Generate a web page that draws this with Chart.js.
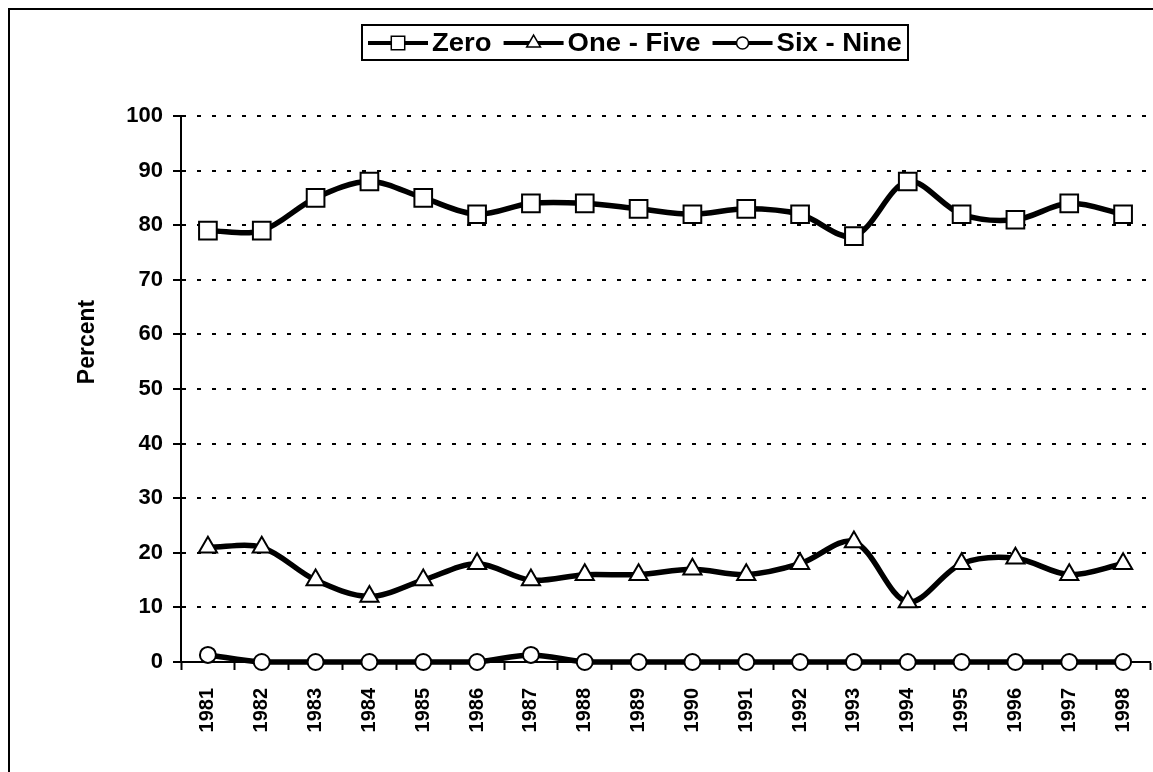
<!DOCTYPE html>
<html>
<head>
<meta charset="utf-8">
<script src="https://cdn.jsdelivr.net/npm/chart.js@4/dist/chart.umd.min.js"></script>
<style>
  html, body { margin: 0; padding: 0; background: #fff; }
</style>
</head>
<body>
<canvas id="chart" width="1153" height="772"></canvas>
<script>
// data
const years = ['1981', '1982', '1983', '1984', '1985', '1986', '1987', '1988', '1989',
               '1990', '1991', '1992', '1993', '1994', '1995', '1996', '1997', '1998'];
const zero    = [79, 79, 85, 88, 85, 82, 84, 84, 83, 82, 83, 82, 78, 88, 82, 81, 84, 82];
const oneFive = [21, 21, 15, 12, 15, 18, 15, 16, 16, 17, 16, 18, 22, 11, 18, 19, 16, 18];
const sixNine = [1.3, 0, 0, 0, 0, 0, 1.3, 0, 0, 0, 0, 0, 0, 0, 0, 0, 0, 0];
const seriesNames = ['Zero', 'One - Five', 'Six - Nine'];
const axisTitle = 'Percent';

const FONT = '"Liberation Sans", Arial, sans-serif';

// frame, legend box and y title drawn by hand
const frameLegend = {
    id: 'frameLegend',
    afterDraw(chart) {
        const ctx = chart.ctx;
        ctx.save();
        ctx.strokeStyle = '#000';
        ctx.fillStyle = '#000';
        ctx.lineWidth = 2;
        ctx.strokeRect(9, 9, 1200, 1200);
        ctx.strokeRect(362, 25, 546, 35);

        ctx.font = 'bold 25px ' + FONT;
        ctx.textBaseline = 'middle';
        const stretch = 1.1; // legend text is a bit wider in the original
        let x = 368;
        const y = 43;
        chart.data.datasets.forEach(ds => {
            ctx.lineWidth = 4;
            ctx.strokeStyle = '#000';
            ctx.beginPath();
            ctx.moveTo(x, y);
            ctx.lineTo(x + 60, y);
            ctx.stroke();
            ctx.fillStyle = '#fff';
            ctx.lineWidth = 1.5;
            Chart.helpers.drawPoint(ctx, {pointStyle: ds.pointStyle, radius: ds.legendRadius, borderWidth: 1.5, rotation: 0}, x + 30, y);
            ctx.fillStyle = '#000';
            ctx.textAlign = 'left';
            ctx.save();
            ctx.translate(x + 64, y + 1);
            ctx.scale(stretch, 1);
            ctx.fillText(ds.label, 0, 0);
            ctx.restore();
            x += 64 + ctx.measureText(ds.label).width * stretch + 12;
        });

        // y axis title
        ctx.font = 'bold 23px ' + FONT;
        ctx.textAlign = 'center';
        ctx.translate(88, 342);
        ctx.rotate(-Math.PI / 2);
        ctx.fillText(axisTitle, 0, 0);
        ctx.restore();
    }
};

function makeSeries(label, data, style, radius, legendRadius) {
    return {
        label: label,
        data: data,
        borderColor: '#000',
        borderWidth: 5.5,
        backgroundColor: '#fff',
        pointStyle: style,
        pointRadius: radius,
        pointBorderWidth: 2,
        pointBackgroundColor: '#fff',
        pointBorderColor: '#000',
        legendRadius: legendRadius,
        tension: 0.33,
        clip: false,
        fill: false
    };
}

const tickFont = {family: FONT, size: 22, weight: 'bold'};

new Chart(document.getElementById('chart').getContext('2d'), {
    type: 'line',
    data: {
        labels: years,
        datasets: [
            makeSeries(seriesNames[0], zero, 'rect', 12.5, 9.5),
            makeSeries(seriesNames[1], oneFive, 'triangle', 10.5, 8),
            makeSeries(seriesNames[2], sixNine, 'circle', 8, 6)
        ]
    },
    options: {
        responsive: false,
        animation: false,
        events: [],
        layout: {autoPadding: false, padding: {top: 116, right: 3, left: 0, bottom: 0}},
        plugins: {legend: {display: false}, tooltip: {enabled: false}},
        scales: {
            x: {
                offset: true,
                grid: {offset: true, drawOnChartArea: false, drawTicks: true, tickLength: 8, color: '#000', tickColor: '#000', tickWidth: 2},
                border: {color: '#000', width: 2},
                ticks: {color: '#000', font: {family: FONT, size: 20, weight: 'bold'}, minRotation: 90, maxRotation: 90, padding: 18, autoSkip: false},
                afterFit: s => { s.height = 110; s.paddingLeft = 0; s.paddingRight = 0; }
            },
            y: {
                min: 0,
                max: 100,
                ticks: {stepSize: 10, color: '#000', font: tickFont, padding: 10},
                grid: {color: '#000', lineWidth: 2, tickLength: 8, tickColor: '#000', tickWidth: 2, tickBorderDash: []},
                border: {color: '#000', width: 2, dash: [4, 11]},
                afterFit: s => { s.width = 181; }
            }
        }
    },
    plugins: [frameLegend]
});
</script>
</body>
</html>
